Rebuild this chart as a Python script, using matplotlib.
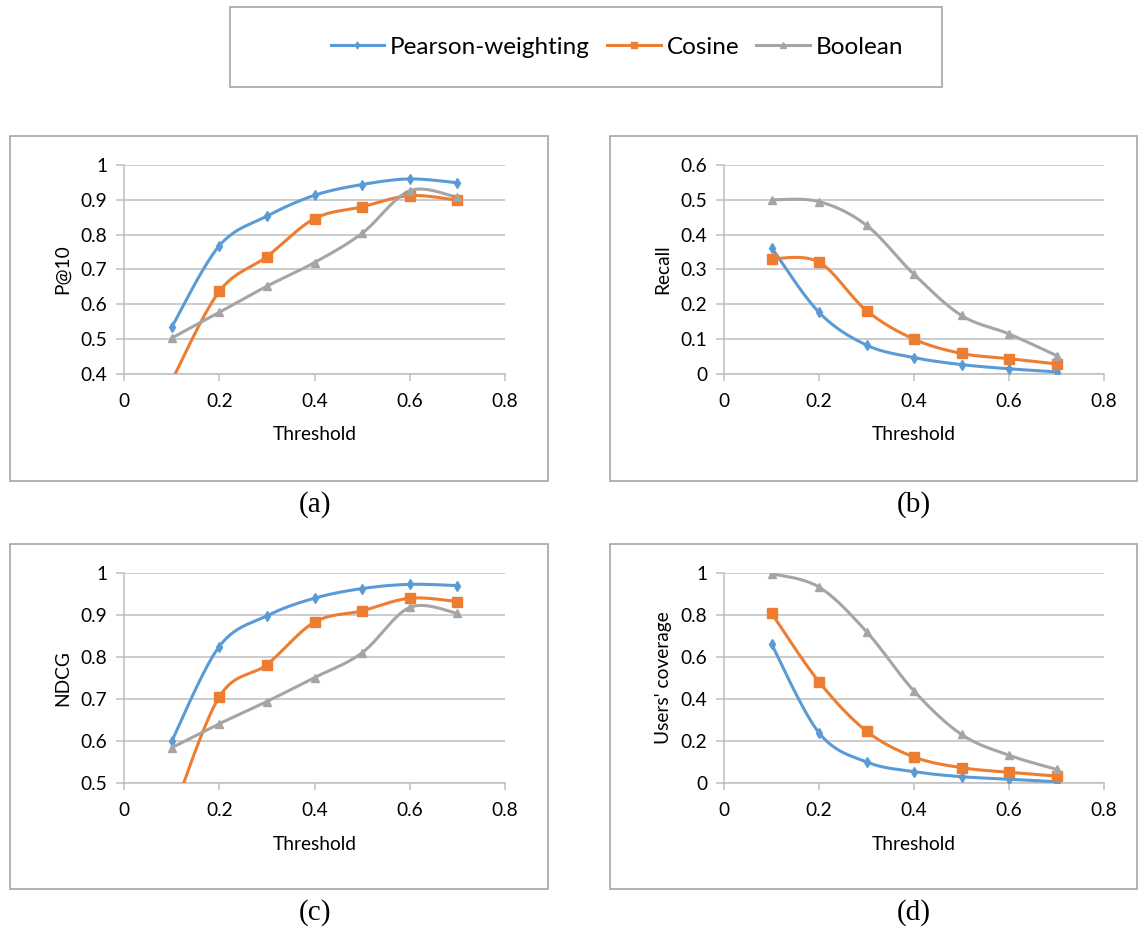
import numpy as np
import matplotlib
matplotlib.use("Agg")
import matplotlib.pyplot as plt
from matplotlib.patches import Rectangle
from matplotlib.lines import Line2D

plt.rcParams['font.family'] = ['Lato', 'DejaVu Sans']

# ---- data ----
thresholds = [0.1, 0.2, 0.3, 0.4, 0.5, 0.6, 0.7]
series_names = ["Pearson-weighting", "Cosine", "Boolean"]

p10_pearson = [0.534, 0.768, 0.853, 0.913, 0.944, 0.960, 0.949]
p10_cosine = [0.38, 0.637, 0.737, 0.846, 0.880, 0.912, 0.899]
p10_boolean = [0.503, 0.577, 0.652, 0.720, 0.804, 0.926, 0.907]

recall_pearson = [0.363, 0.177, 0.083, 0.047, 0.027, 0.015, 0.006]
recall_cosine = [0.331, 0.321, 0.182, 0.100, 0.059, 0.044, 0.029]
recall_boolean = [0.500, 0.495, 0.427, 0.286, 0.168, 0.115, 0.053]

ndcg_pearson = [0.599, 0.825, 0.898, 0.940, 0.963, 0.973, 0.970]
ndcg_cosine = [0.42, 0.705, 0.782, 0.883, 0.910, 0.940, 0.932]
ndcg_boolean = [0.584, 0.641, 0.694, 0.751, 0.810, 0.918, 0.904]

cov_pearson = [0.662, 0.239, 0.100, 0.054, 0.030, 0.018, 0.006]
cov_cosine = [0.809, 0.482, 0.247, 0.124, 0.073, 0.051, 0.033]
cov_boolean = [0.997, 0.933, 0.721, 0.438, 0.231, 0.132, 0.065]

x_ticks = [0, 0.2, 0.4, 0.6, 0.8]
x_tick_labels = ["0", "0.2", "0.4", "0.6", "0.8"]

panels = [
    dict(ylabel="P@10", caption="(a)", ylim=(0.4, 1.0),
         yticks=[0.4, 0.5, 0.6, 0.7, 0.8, 0.9, 1.0],
         ylabels=["0.4", "0.5", "0.6", "0.7", "0.8", "0.9", "1"],
         data=[p10_pearson, p10_cosine, p10_boolean]),
    dict(ylabel="Recall", caption="(b)", ylim=(0.0, 0.6),
         yticks=[0, 0.1, 0.2, 0.3, 0.4, 0.5, 0.6],
         ylabels=["0", "0.1", "0.2", "0.3", "0.4", "0.5", "0.6"],
         data=[recall_pearson, recall_cosine, recall_boolean]),
    dict(ylabel="NDCG", caption="(c)", ylim=(0.5, 1.0),
         yticks=[0.5, 0.6, 0.7, 0.8, 0.9, 1.0],
         ylabels=["0.5", "0.6", "0.7", "0.8", "0.9", "1"],
         data=[ndcg_pearson, ndcg_cosine, ndcg_boolean]),
    dict(ylabel="Users' coverage", caption="(d)", ylim=(0.0, 1.0),
         yticks=[0, 0.2, 0.4, 0.6, 0.8, 1.0],
         ylabels=["0", "0.2", "0.4", "0.6", "0.8", "1"],
         data=[cov_pearson, cov_cosine, cov_boolean]),
]

colors = ["#5B9BD5", "#ED7D31", "#A5A5A5"]
markers = ["d", "s", "^"]
msizes = [5, 6.5, 6]
GRID = "#BFBFBF"
FRAME = "#A6A6A6"

W, H = 1139, 930


def smooth(x, y, n=40):
    # excel style smoothed line (catmull-rom as cubic bezier)
    pts = np.column_stack([x, y]).astype(float)
    out = [pts[0]]
    t = np.linspace(0, 1, n)[1:, None]
    for i in range(len(pts) - 1):
        p0 = pts[i - 1] if i > 0 else pts[i]
        p1, p2 = pts[i], pts[i + 1]
        p3 = pts[i + 2] if i + 2 < len(pts) else pts[i + 1]
        c1 = p1 + (p2 - p0) / 6
        c2 = p2 - (p3 - p1) / 6
        seg = (1 - t) ** 3 * p1 + 3 * (1 - t) ** 2 * t * c1 + 3 * (1 - t) * t ** 2 * c2 + t ** 3 * p2
        out.extend(seg)
    out = np.array(out)
    return out[:, 0], out[:, 1]


def px_rect(x0, y0, x1, y1):
    return Rectangle((x0 / W, 1 - y1 / H), (x1 - x0) / W, (y1 - y0) / H,
                     transform=fig.transFigure, fill=False, edgecolor=FRAME, lw=1.2)


fig = plt.figure(figsize=(W / 100, H / 100), dpi=100)

# axes positions in pixels: (left, top, right, bottom)
ax_px = [(124, 165, 505, 374), (724, 165, 1104, 374),
         (124, 573, 505, 783), (724, 573, 1104, 783)]
frame_px = [(10, 136, 548, 481), (610, 136, 1137, 481),
            (10, 544, 548, 889), (610, 544, 1137, 889)]

for panel, (l, t, r, b), fr in zip(panels, ax_px, frame_px):
    ax = fig.add_axes([l / W, 1 - b / H, (r - l) / W, (b - t) / H])
    fig.add_artist(px_rect(*fr))

    for vals, c, m, ms in zip(panel["data"], colors, markers, msizes):
        sx, sy = smooth(thresholds, vals)
        ax.plot(sx, sy, color=c, lw=2.2, solid_capstyle="round", zorder=3)
        xs = np.array(thresholds)
        ys = np.array(vals)
        keep = ys >= panel["ylim"][0]
        ax.plot(xs[keep], ys[keep], ls="none", marker=m, ms=ms, color=c,
                mec=c, zorder=4)

    ax.set_xlim(0, 0.8)
    ax.set_ylim(*panel["ylim"])
    ax.set_xticks(x_ticks)
    ax.set_xticklabels(x_tick_labels)
    ax.set_yticks(panel["yticks"])
    ax.set_yticklabels(panel["ylabels"])
    ax.yaxis.grid(True, color=GRID, lw=1.1)
    ax.set_axisbelow(True)
    for s in ["top", "right"]:
        ax.spines[s].set_visible(False)
    for s in ["left", "bottom"]:
        ax.spines[s].set_color(GRID)
        ax.spines[s].set_linewidth(1.1)
    ax.tick_params(axis="both", colors=GRID, labelcolor="black", labelsize=13.8,
                   width=1.1)
    ax.tick_params(axis="y", length=6, pad=6)
    ax.tick_params(axis="x", length=5, pad=9)
    ax.set_xlabel("Threshold", fontsize=13.8)
    ax.set_ylabel(panel["ylabel"], fontsize=13.8)
    ax.xaxis.set_label_coords(0.5, -0.25)
    ax.yaxis.set_label_coords(-0.138, 0.5)

    cx = (l + r) / 2
    fig.text(cx / W, 1 - (fr[3] + 24) / H, panel["caption"], ha="center", va="center",
             fontsize=21, family="Liberation Serif")

# legend box at the top
fig.add_artist(px_rect(230, 7, 942, 87))
handles = [Line2D([], [], color=c, lw=2.2, marker=m, ms=ms * 0.7)
           for c, m, ms in zip(colors, markers, msizes)]
fig.legend(handles, series_names, loc="center", bbox_to_anchor=(617 / W, 1 - 47 / H),
           ncol=3, frameon=False, fontsize=17.5, handlelength=2.2, handletextpad=0.25,
           columnspacing=0.7)

fig.savefig("out.png", dpi=100)
